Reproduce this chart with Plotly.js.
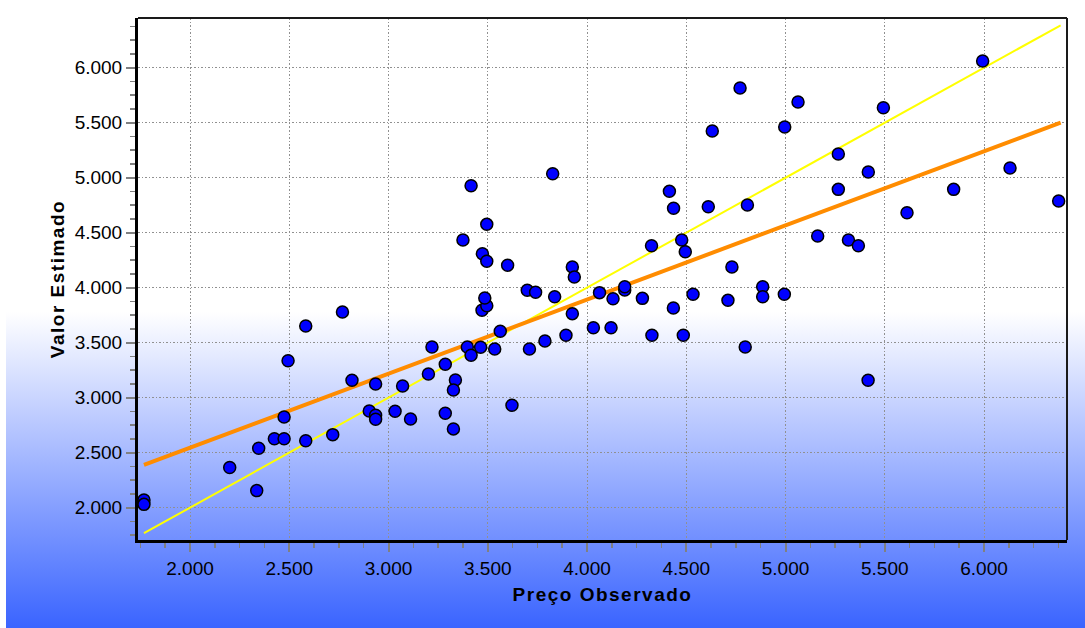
<!DOCTYPE html>
<html>
<head>
<meta charset="utf-8">
<script src="https://cdn.plot.ly/plotly-3.0.1.min.js"></script>
<style>
  html, body { margin: 0; padding: 0; background: #ffffff; }
  #bg { position: absolute; left: 6px; top: 0; width: 1079px; height: 628px;
        background: linear-gradient(to bottom, #ffffff 0px, #ffffff 312px, #3a64ff 628px); }
  #chart { position: absolute; left: 0; top: 0; width: 1085px; height: 628px; }
  .g-xtitle text, .g-ytitle text { letter-spacing: 1.5px; }
</style>
</head>
<body>
<div id="bg"></div>
<div id="chart"></div>
<script>
// Observed price (x) and estimated value (y)
const precoObservado = [
  1768, 1768, 2200, 2336, 2346, 2425, 2474, 2474, 2494, 2583,
  2583, 2719, 2768, 2816, 2903, 2935, 2935, 2935, 3033, 3071,
  3111, 3201, 3219, 3286, 3286, 3327, 3337, 3327, 3375, 3397,
  3416, 3416, 3464, 3471, 3495, 3485, 3473, 3495, 3495, 3535,
  3563, 3600, 3622, 3699, 3741, 3710, 3788, 3827, 3837, 3894,
  3926, 3926, 3936, 4032, 4063, 4121, 4131, 4190, 4190, 4279,
  4325, 4327, 4415, 4436, 4435, 4477, 4495, 4485, 4534, 4611,
  4631, 4710, 4730, 4771, 4797, 4808, 4885, 4885, 4994, 4996,
  5063, 5162, 5266, 5266, 5317, 5367, 5416, 5417, 5493, 5612,
  5847, 5993, 6131, 6376
];
const valorEstimado = [
  2070, 2030, 2365, 2155, 2540, 2627, 2627, 2825, 3336, 3652,
  2609, 2664, 3779, 3158, 2879, 2840, 2804, 3125, 2876, 3106,
  2806, 3215, 3461, 3304, 2858, 2716, 3161, 3070, 4434, 3461,
  3385, 4927, 3458, 3795, 3836, 3906, 4309, 4240, 4576, 3443,
  3604, 4204, 2931, 3976, 3958, 3443, 3515, 5036, 3918, 3567,
  3764, 4188, 4097, 3636, 3955, 3636, 3900, 3979, 4009, 3903,
  4382, 3567, 4876, 4722, 3815, 4434, 4327, 3567, 3940, 4736,
  5425, 3885, 4188, 5815, 3461, 4752, 4009, 3918, 3940, 5461,
  5688, 4470, 5215, 4894, 4434, 4382, 3158, 5052, 5636, 4682,
  4894, 6061, 5088, 4788
];
// Fitted trend line (orange) and reference line y = x (yellow)
const linhaX = [1768, 6386];
const ajusteY = [2388, 5500];
const referenciaY = [1768, 6386];

const tickVals = [2000, 2500, 3000, 3500, 4000, 4500, 5000, 5500, 6000];

const fontFam = '"Liberation Sans", Arial, Helvetica, sans-serif';

const traces = [
  { x: linhaX, y: referenciaY, type: 'scatter', mode: 'lines',
    line: { color: '#ffff00', width: 2 }, hoverinfo: 'skip', showlegend: false },
  { x: linhaX, y: ajusteY, type: 'scatter', mode: 'lines',
    line: { color: '#ff8c00', width: 4 }, hoverinfo: 'skip', showlegend: false },
  { x: precoObservado, y: valorEstimado, type: 'scatter', mode: 'markers',
    marker: { color: '#0000ff', size: 12, line: { color: '#000000', width: 1.5 } },
    showlegend: false }
];

const axisCommon = {
  tickvals: tickVals,
  tickformat: ',.0f',
  ticks: 'outside', ticklen: 9, tickwidth: 2, tickcolor: '#808080',
  showgrid: true, gridcolor: '#909090', gridwidth: 1, griddash: '1.5px,2px',
  showline: true, linecolor: '#000000', linewidth: 3,
  zeroline: false, mirror: false,
  tickfont: { family: fontFam, size: 19, color: '#000000' },
  minor: { dtick: 125, tick0: 0, ticks: 'outside', ticklen: 5, tickwidth: 1.5, tickcolor: '#808080', showgrid: false }
};

const layout = {
  width: 1085, height: 628,
  margin: { l: 138, r: 18, t: 18, b: 88 },
  paper_bgcolor: 'rgba(0,0,0,0)',
  plot_bgcolor: 'rgba(0,0,0,0)',
  separators: ',.',
  showlegend: false,
  font: { family: fontFam, color: '#000000' },
  xaxis: Object.assign({}, axisCommon, {
    range: [1738, 6418],
    title: { text: '<b>Preço Observado</b>', font: { family: fontFam, size: 19, color: '#000' }, standoff: 10 }
  }),
  yaxis: Object.assign({}, axisCommon, {
    range: [1706, 6452],
    title: { text: '<b>Valor Estimado</b>', font: { family: fontFam, size: 19, color: '#000' }, standoff: 6 }
  }),
  shapes: [
    { type: 'line', xref: 'paper', yref: 'paper', x0: 0, x1: 1, y0: 1, y1: 1, line: { color: '#1a1a1a', width: 2 } },
    { type: 'line', xref: 'paper', yref: 'paper', x0: 1, x1: 1, y0: 0, y1: 1, line: { color: '#1a1a1a', width: 2 } }
  ]
};

Plotly.newPlot('chart', traces, layout, { displayModeBar: false, staticPlot: true });
</script>
</body>
</html>
